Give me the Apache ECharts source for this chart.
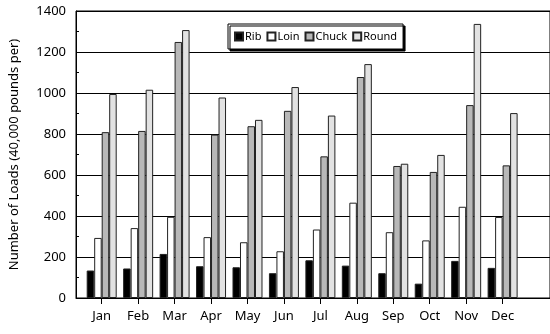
<!DOCTYPE html>
<html>
<head>
<meta charset="utf-8">
<script src="https://cdn.jsdelivr.net/npm/echarts@6/dist/echarts.min.js"></script>
<style>html,body{margin:0;padding:0;background:#fff}#c{width:550px;height:334px}</style>
</head>
<body>
<div id="c"></div>
<script>
const months = ['Jan','Feb','Mar','Apr','May','Jun','Jul','Aug','Sep','Oct','Nov','Dec'];
const rib   = [134,144,215,155,150,121,184,158,121,70,181,147];
const loin  = [293,341,396,297,272,228,334,465,321,281,445,395];
const chuck = [809,815,1249,797,838,913,691,1078,644,615,941,647];
const round = [995,1016,1307,978,869,1029,890,1141,655,698,1337,902];
const yTicks = [0,200,400,600,800,1000,1200,1400];

const FONT = 'Noto Sans';
const idx = months.map((m,i)=>i);
function mk(name, vals, color){
  return {
    name, type:'bar', barWidth:7.5, barGap:'0%',
    itemStyle:{color, borderColor:'#222', borderWidth:1},
    data: vals.map((v,i)=>[i,v])
  };
}
const chart = echarts.init(document.getElementById('c'));
chart.setOption({
  animation:false,
  textStyle:{fontFamily:FONT},
  grid:{left:75, top:11, bottom:36, right:-29, show:true, borderColor:'#000', borderWidth:1},
  legend:{
    left:228, top:24, orient:'horizontal',
    itemWidth:8, itemHeight:8, itemGap:5, icon:'rect',
    padding:[7,6,7,6],
    borderColor:'#000', borderWidth:1, backgroundColor:'#fff',
    shadowColor:'#000', shadowOffsetX:2, shadowOffsetY:2, shadowBlur:0,
    textStyle:{fontSize:11, color:'#000', fontFamily:FONT, padding:[0,0,0,-3]},
    data:['Rib','Loin','Chuck','Round']
  },
  xAxis:{
    type:'value', min:-0.705, max:12.3,
    splitLine:{show:false},
    axisLine:{onZero:false, lineStyle:{color:'#000', width:1}},
    axisTick:{show:true, length:6, lineStyle:{color:'#000'}, customValues:idx},
    axisLabel:{fontSize:13, color:'#000', margin:12, customValues:idx,
      formatter:(v)=>months[Math.round(v)]}
  },
  yAxis:{
    type:'value', min:0, max:1400, interval:200,
    name:'Number of Loads (40,000 pounds per)', nameLocation:'middle', nameGap:55,
    nameTextStyle:{fontSize:13, color:'#000', fontFamily:FONT},
    axisLine:{show:true, onZero:false, lineStyle:{color:'#000'}},
    axisTick:{show:true, inside:true, length:3, lineStyle:{color:'#000'}},
    minorTick:{show:true, splitNumber:2, length:3, lineStyle:{color:'#000'}},
    splitLine:{lineStyle:{color:'#000', width:1}},
    axisLabel:{fontSize:13, color:'#000', margin:10, customValues:yTicks, formatter:(v)=>String(v)}
  },
  series:[
    mk('Rib', rib, '#000000'),
    mk('Loin', loin, '#ffffff'),
    mk('Chuck', chuck, '#b8b8b8'),
    mk('Round', round, '#e2e2e2')
  ]
});
</script>
</body>
</html>
